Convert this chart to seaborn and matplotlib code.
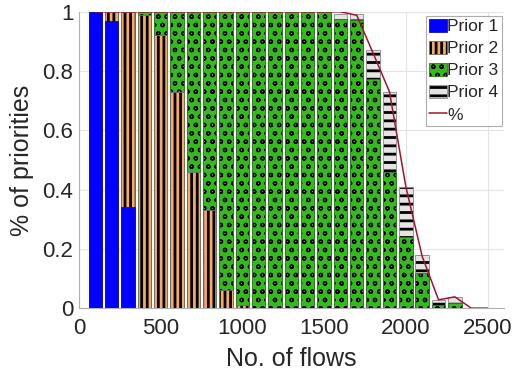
import numpy as np
import pandas as pd
import matplotlib
matplotlib.use("Agg")
import matplotlib.pyplot as plt
import seaborn as sns
from matplotlib.patches import Patch
from matplotlib.lines import Line2D
from matplotlib.colors import to_rgba

# ---- data ----
flows = [100, 200, 300, 400, 500, 600, 700, 800, 900, 1000, 1100, 1200, 1300,
         1400, 1500, 1600, 1700, 1800, 1900, 2000, 2100, 2200, 2300, 2400, 2500]
prior1 = [1.00, 0.97, 0.34, 0, 0, 0, 0, 0, 0, 0, 0, 0, 0,
          0, 0, 0, 0, 0, 0, 0, 0, 0, 0, 0, 0]
prior2 = [0, 0.03, 0.66, 0.99, 0.92, 0.73, 0.46, 0.33, 0.06, 0.01, 0, 0, 0,
          0, 0, 0, 0, 0, 0, 0, 0, 0, 0, 0, 0]
prior3 = [0, 0, 0, 0.01, 0.08, 0.27, 0.54, 0.67, 0.94, 0.99, 1.00, 1.00, 1.00,
          1.00, 1.00, 0.976, 0.971, 0.774, 0.459, 0.24, 0.119, 0.009, 0.018, 0, 0]
prior4 = [0, 0, 0, 0, 0, 0, 0, 0, 0, 0, 0, 0, 0,
          0, 0, 0.017, 0.02, 0.098, 0.269, 0.17, 0.06, 0.018, 0.02, 0, 0]
pct = [1, 1, 1, 1, 1, 1, 1, 1, 1, 1, 1, 1, 1,
       1, 1, 1, 0.988, 0.86, 0.73, 0.41, 0.175, 0.028, 0.038, 0, 0]
labels = ["Prior 1", "Prior 2", "Prior 3", "Prior 4"]
xticks = [0, 500, 1000, 1500, 2000, 2500]
yticks = [0, 0.2, 0.4, 0.6, 0.8, 1]
ytick_labels = ["0", "0.2", "0.4", "0.6", "0.8", "1"]

colors = {"Prior 1": "#0000FF", "Prior 2": "#F7AA64", "Prior 3": "#34BA1F", "Prior 4": "#E4E4E4"}
edges = {"Prior 1": "#1010B0", "Prior 2": "#6E6E6E", "Prior 3": "#2A7A1A", "Prior 4": "#8A8A8A"}
hatches = {"Prior 1": None, "Prior 2": "|||", "Prior 3": "oo", "Prior 4": "--"}
hatch_lw = {"Prior 1": 1.0, "Prior 2": 2.0, "Prior 3": 0.9, "Prior 4": 2.0}

layers = {"Prior 1": prior1, "Prior 2": prior2, "Prior 3": prior3, "Prior 4": prior4}

sns.set_theme(style="whitegrid")
plt.rcParams["font.family"] = ["Liberation Sans", "DejaVu Sans"]

fig = plt.figure(figsize=(5.26, 3.79), dpi=100)
ax = fig.add_axes([0.150, 0.187, 0.808, 0.782])

# stacked bars: draw cumulative totals from the top layer down
cum = np.cumsum(np.array([layers[n] for n in labels]), axis=0)
for i in range(len(labels) - 1, -1, -1):
    name = labels[i]
    plt.rcParams["hatch.linewidth"] = hatch_lw[name]
    before = len(ax.patches)
    sns.barplot(x=flows, y=cum[i], native_scale=True, width=0.82, errorbar=None,
                color=colors[name], saturation=1, edgecolor=edges[name],
                linewidth=0.6, hatch=hatches[name], ax=ax)
    for p in ax.patches[before:]:
        p.set_facecolor(colors[name])
        p._hatch_color = to_rgba("black")
        if hasattr(p, "set_hatch_linewidth"):
            p.set_hatch_linewidth(hatch_lw[name])
        if p.get_height() <= 1e-6:
            p.set_visible(False)

sns.lineplot(x=flows, y=pct, color="#A2142F", linewidth=1.1, ax=ax)

ax.set_xlim(0, 2600)
ax.set_ylim(0, 1)
ax.set_xticks(xticks)
ax.set_xticklabels([str(t) for t in xticks])
ax.set_yticks(yticks)
ax.set_yticklabels(ytick_labels)
ax.set_xlabel("No. of flows", fontsize=18, color="#262626", labelpad=6)
ax.set_ylabel("% of priorities", fontsize=18, color="#262626", labelpad=6)
ax.tick_params(axis="both", labelsize=16, labelcolor="#262626", direction="in",
               length=3, width=0.6, color="#aaaaaa")
ax.tick_params(axis="x", pad=7)
ax.tick_params(axis="y", pad=4)
ax.grid(True, color="#e4e4e4", linewidth=0.8)
ax.set_axisbelow(True)
for s in ["top", "right"]:
    ax.spines[s].set_visible(False)
for s in ["left", "bottom"]:
    ax.spines[s].set_color("#b0b0b0")
    ax.spines[s].set_linewidth(0.8)

handles = []
for name in labels:
    plt.rcParams["hatch.linewidth"] = hatch_lw[name]
    h = Patch(facecolor=colors[name], edgecolor=edges[name], hatch=hatches[name], linewidth=0.6)
    handles.append(h)
handles.append(Line2D([0], [0], color="#A2142F", linewidth=1.1))
leg = ax.legend(handles, labels + ["%"], loc="upper right", bbox_to_anchor=(0.998, 0.99),
                fontsize=12.5, frameon=True, fancybox=False, edgecolor="#999999",
                handlelength=1.03, handleheight=0.75, handletextpad=0.03,
                labelspacing=0.38, borderpad=0.2, borderaxespad=0.05)
leg.get_frame().set_linewidth(0.8)
for h, name in zip(leg.legend_handles[:4], labels):
    h._hatch_color = to_rgba("black")
    if hasattr(h, "set_hatch_linewidth"):
        h.set_hatch_linewidth(hatch_lw[name])

fig.savefig("out.png", dpi=100)
